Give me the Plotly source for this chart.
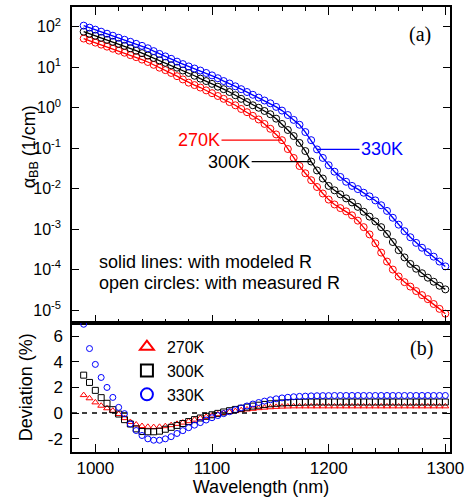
import math
import plotly.graph_objects as go
from plotly.subplots import make_subplots

# Wavelength grid (nm)
wavelength = [990, 995, 1000, 1005, 1010, 1015, 1020, 1025, 1030, 1035, 1040, 1045,
              1050, 1055, 1060, 1065, 1070, 1075, 1080, 1085, 1090, 1095, 1100, 1105,
              1110, 1115, 1120, 1125, 1130, 1135, 1140, 1145, 1150, 1155, 1160, 1165,
              1170, 1175, 1180, 1185, 1190, 1195, 1200, 1205, 1210, 1215, 1220, 1225,
              1230, 1235, 1240, 1245, 1250, 1255, 1260, 1265, 1270, 1275, 1280, 1285,
              1290, 1295, 1300]

# Band-to-band absorption coefficient (1/cm)
alpha_270 = [51.3, 45.7, 40.7, 36.3, 32.4, 28.8, 25.7, 22.9, 20.0, 17.8, 15.5, 13.5,
             11.5, 9.77, 8.51, 7.24, 6.03, 5.01, 4.17, 3.63, 3.16, 2.69, 2.29, 1.95,
             1.66, 1.38, 1.15, 0.933, 0.776, 0.631, 0.513, 0.398, 0.302, 0.219, 0.158, 0.0955,
             0.0575, 0.0363, 0.0240, 0.0162, 0.0110, 0.00759, 0.00537, 0.00407, 0.00331, 0.00275, 0.00219, 0.00162,
             0.00112, 7.41e-4, 4.47e-4, 2.63e-4, 1.58e-4, 1.00e-4, 6.76e-5, 4.90e-5, 3.80e-5, 2.95e-5, 2.34e-5, 1.86e-5,
             1.41e-5, 1.07e-5, 8.13e-6]
alpha_300 = [75.9, 67.6, 60.3, 53.7, 47.9, 42.7, 38.0, 33.9, 29.5, 25.7, 22.4, 19.5,
             17.0, 14.8, 12.9, 11.2, 9.77, 8.32, 7.24, 6.17, 5.25, 4.57, 3.89, 3.31,
             2.88, 2.45, 2.04, 1.66, 1.38, 1.15, 1.00, 0.832, 0.692, 0.537, 0.398, 0.282,
             0.200, 0.135, 0.0851, 0.0468, 0.0282, 0.0178, 0.0117, 0.00912, 0.00724, 0.00575, 0.00457, 0.00355,
             0.00269, 0.00204, 0.00155, 0.00112, 7.59e-4, 4.79e-4, 3.02e-4, 2.00e-4, 1.38e-4, 1.05e-4, 8.13e-5, 6.31e-5,
             5.01e-5, 3.98e-5, 3.24e-5]
alpha_330 = [107, 95.5, 85.1, 75.9, 67.6, 60.3, 53.7, 47.9, 42.7, 38.0, 33.9, 29.5,
             25.1, 21.4, 18.6, 16.2, 13.8, 12.0, 10.5, 9.33, 8.32, 7.24, 6.31, 5.37,
             4.57, 3.98, 3.39, 2.88, 2.45, 2.09, 1.78, 1.51, 1.29, 1.05, 0.851, 0.661,
             0.501, 0.380, 0.251, 0.158, 0.0933, 0.0575, 0.0380, 0.0263, 0.0195, 0.0148, 0.0117, 0.00977,
             0.00794, 0.00646, 0.00513, 0.00389, 0.00282, 0.00191, 0.00129, 8.91e-4, 6.31e-4, 4.57e-4, 3.47e-4, 2.69e-4,
             2.09e-4, 1.58e-4, 1.20e-4]

# Deviation between modeled-R and measured-R results (%)
dev_270 = [1.40, 1.15, 0.83, 0.57, 0.37, 0.18, -0.08, -0.40, -0.70, -0.90, -1.02, -1.08,
           -1.10, -1.08, -1.03, -0.95, -0.85, -0.75, -0.64, -0.52, -0.40, -0.30, -0.20, -0.10,
           0.00, 0.08, 0.15, 0.22, 0.28, 0.33, 0.38, 0.42, 0.45, 0.48, 0.50, 0.51,
           0.52, 0.52, 0.52, 0.52, 0.52, 0.52, 0.52, 0.52, 0.52, 0.52, 0.52, 0.52,
           0.52, 0.52, 0.52, 0.52, 0.52, 0.52, 0.52, 0.52, 0.52, 0.52, 0.52, 0.52,
           0.52, 0.52, 0.52]
dev_300 = [2.96, 2.39, 1.77, 1.20, 0.76, 0.26, -0.08, -0.52, -0.86, -1.24, -1.45, -1.47,
           -1.47, -1.42, -1.27, -1.12, -0.97, -0.82, -0.67, -0.52, -0.39, -0.26, -0.14, -0.03,
           0.08, 0.18, 0.28, 0.37, 0.46, 0.54, 0.61, 0.67, 0.72, 0.76, 0.79, 0.81,
           0.83, 0.84, 0.85, 0.86, 0.86, 0.86, 0.86, 0.86, 0.86, 0.86, 0.86, 0.86,
           0.86, 0.86, 0.86, 0.86, 0.86, 0.86, 0.86, 0.86, 0.86, 0.86, 0.86, 0.86,
           0.86, 0.86, 0.86]
dev_330 = [6.94, 5.04, 3.80, 2.78, 2.00, 1.22, 0.44, -0.05, -0.86, -1.37, -1.76, -2.02,
           -2.13, -2.13, -2.02, -1.85, -1.60, -1.38, -1.15, -0.95, -0.75, -0.55, -0.37, -0.20,
           -0.05, 0.10, 0.25, 0.40, 0.55, 0.70, 0.82, 0.93, 1.03, 1.11, 1.18, 1.23,
           1.27, 1.30, 1.32, 1.34, 1.35, 1.36, 1.36, 1.37, 1.37, 1.37, 1.37, 1.37,
           1.37, 1.37, 1.37, 1.37, 1.37, 1.37, 1.37, 1.37, 1.37, 1.37, 1.37, 1.37,
           1.37, 1.37, 1.37]

temps = ["270K", "300K", "330K"]
colors = ["#ff0000", "#000000", "#0000ff"]
dev_symbols = ["triangle-up-open", "square-open", "circle-open"]

alpha_ticks = [1e-5, 1e-4, 1e-3, 1e-2, 1e-1, 1e0, 1e1, 1e2]
alpha_ticktext = ["10<sup>-5</sup>", "10<sup>-4</sup>", "10<sup>-3</sup>", "10<sup>-2</sup>",
                  "10<sup>-1</sup>", "10<sup>0</sup>", "10<sup>1</sup>", "10<sup>2</sup>"]
dev_ticks = [-2, 0, 2, 4, 6]
dev_ticktext = ["-2", "0", "2", "4", "6"]

FONT = "Liberation Sans, Arial, sans-serif"
SERIF = "Liberation Serif, Times New Roman, serif"

fig = make_subplots(rows=2, cols=1, shared_xaxes=False, vertical_spacing=0,
                    row_heights=[0.7092, 0.2908])

alphas = [alpha_270, alpha_300, alpha_330]
devs = [dev_270, dev_300, dev_330]

for t, c, a in zip(temps, colors, alphas):
    fig.add_trace(go.Scatter(x=wavelength, y=a, mode="lines+markers",
                             line=dict(color=c, width=1.3),
                             marker=dict(symbol="circle-open", size=7, color=c,
                                         line=dict(width=1, color=c)),
                             showlegend=False, name=t), row=1, col=1)

for t, c, d, s in zip(temps, colors, devs, dev_symbols):
    fig.add_trace(go.Scatter(x=wavelength, y=d, mode="markers", name=t,
                             marker=dict(symbol=s, size=6, color=c,
                                         line=dict(width=1, color=c)),
                             showlegend=True), row=2, col=1)

# dashed zero reference in the deviation panel
fig.add_shape(type="line", xref="x2 domain", x0=0, x1=1, yref="y2", y0=0, y1=0,
              line=dict(color="black", width=1.3, dash="5px,5px"))

axis_common = dict(showline=True, linecolor="black", linewidth=1.5,
                   ticks="inside", tickcolor="black", tickwidth=1.2,
                   showgrid=False, zeroline=False)

xr = [980, 1304]
fig.update_xaxes(range=xr, dtick=100, tick0=1000, ticklen=8, mirror="ticks",
                 showticklabels=False,
                 minor=dict(dtick=20, tick0=1000, ticks="inside", ticklen=4,
                            tickcolor="black", tickwidth=1.2),
                 **axis_common, row=1, col=1)
fig.update_xaxes(range=xr, dtick=100, tick0=1000, ticklen=8, mirror=True,
                 tickfont=dict(family=FONT, size=17, color="black"),
                 minor=dict(dtick=20, tick0=1000, ticks="inside", ticklen=4,
                            tickcolor="black", tickwidth=1.2),
                 title=dict(text="Wavelength (nm)", font=dict(family=FONT, size=18, color="black"),
                            standoff=0),
                 **axis_common, row=2, col=1)
fig.update_yaxes(type="log", range=[-5.31, 2.49], tickvals=alpha_ticks, ticktext=alpha_ticktext,
                 ticklen=7, mirror="ticks", ticklabelstandoff=6,
                 tickfont=dict(family=FONT, size=16, color="black"),
                 **axis_common, row=1, col=1)
fig.update_yaxes(range=[-3.05, 7.07], tickvals=dev_ticks, ticktext=dev_ticktext,
                 ticklen=7, mirror="ticks", ticklabelstandoff=4,
                 tickfont=dict(family=FONT, size=17, color="black"),
                 **axis_common, row=2, col=1)

annotations = [
    dict(text="α<sub>BB</sub> (1/cm)", xref="paper", yref="paper", x=0, y=0.6846,
         xshift=-42, xanchor="center", yanchor="middle", textangle=-90, showarrow=False,
         font=dict(family=FONT, size=18, color="black")),
    dict(text="Deviation (%)", xref="paper", yref="paper", x=0, y=0.1454,
         xshift=-46, xanchor="center", yanchor="middle", textangle=-90, showarrow=False,
         font=dict(family=FONT, size=18, color="black")),
    dict(text="(a)", xref="paper", yref="paper", x=0.9206, y=0.9374,
         xanchor="center", yanchor="middle", showarrow=False,
         font=dict(family=SERIF, size=20, color="black")),
    dict(text="(b)", xref="paper", yref="paper", x=0.925, y=0.2327,
         xanchor="center", yanchor="middle", showarrow=False,
         font=dict(family=SERIF, size=20, color="black")),
    dict(text="solid lines: with modeled R", xref="paper", yref="paper", x=0.066, y=0.428,
         xanchor="left", yanchor="middle", showarrow=False,
         font=dict(family=FONT, size=18, color="black")),
    dict(text="open circles: with measured R", xref="paper", yref="paper", x=0.066, y=0.3787,
         xanchor="left", yanchor="middle", showarrow=False,
         font=dict(family=FONT, size=18, color="black")),
]

# temperature call-outs pointing at the curves
callouts = [(0, 34, -83), (1, 39, -82), (2, 40, 65)]
for k, idx, ax in callouts:
    annotations.append(dict(text=temps[k], x=wavelength[idx], y=math.log10(alphas[k][idx]),
                            xref="x", yref="y", showarrow=True, arrowhead=0, arrowwidth=1.2,
                            arrowcolor=colors[k], ax=ax, ay=0, standoff=0,
                            font=dict(family=FONT, size=18, color=colors[k])))

fig.update_layout(
    width=472, height=497,
    margin=dict(l=72, r=22, t=5, b=45),
    paper_bgcolor="white", plot_bgcolor="white",
    annotations=annotations,
    legend=dict(x=0.1453, y=0.2745, xanchor="left", yanchor="top",
                bgcolor="rgba(0,0,0,0)", itemsizing="constant",
                font=dict(family=FONT, size=16, color="black"),
                tracegroupgap=0),
)

fig.write_html("out.html")
